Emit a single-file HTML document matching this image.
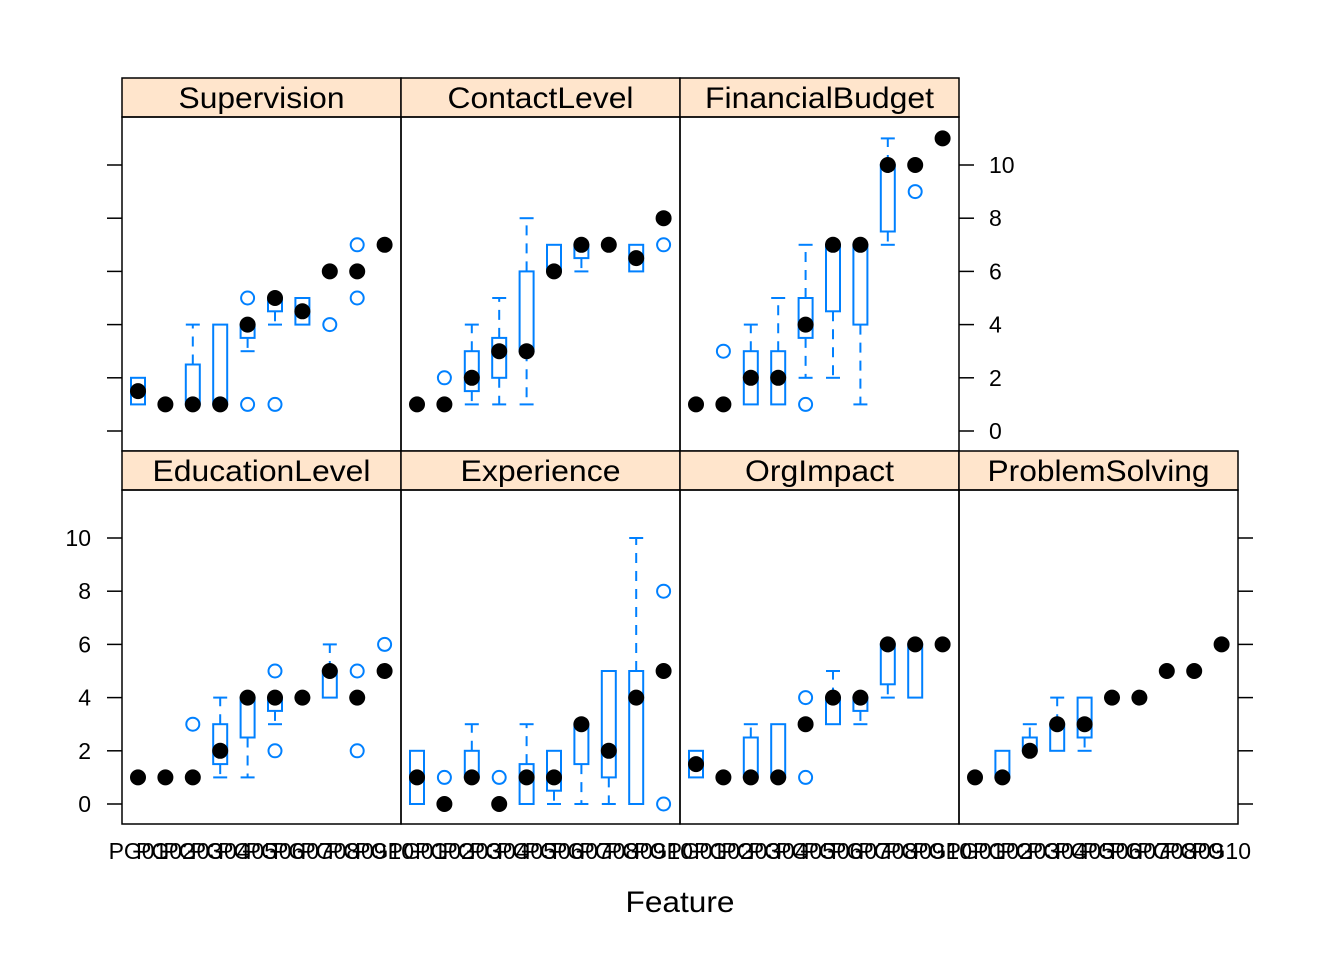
<!DOCTYPE html>
<html><head><meta charset="utf-8"><style>
html,body{margin:0;padding:0;background:#fff}
svg{display:block;font-family:"Liberation Sans",Arial,sans-serif}
</style></head><body>
<svg id="chart" width="1344" height="960" viewBox="0 0 1344 960">
<rect width="1344" height="960" fill="#fff"/>
<text x="680" y="912" font-size="30" text-anchor="middle" textLength="109" lengthAdjust="spacingAndGlyphs">Feature</text>
</svg>
<script>
const categories = ["PG01","PG02","PG03","PG04","PG05","PG06","PG07","PG08","PG09","PG10"];
const panelNames = ["Supervision","ContactLevel","FinancialBudget","EducationLevel","Experience","OrgImpact","ProblemSolving"];
const yTicks = [0,2,4,6,8,10];
// each box: [lowWhisker, q1, median, q3, highWhisker]
const supervisionStats = [[1,1,1.5,2,2],[1,1,1,1,1],[1,1,1,2.5,4],[1,1,1,4,4],[3,3.5,4,4,4],[4,4.5,5,5,5],[4,4,4.5,5,5],[6,6,6,6,6],[6,6,6,6,6],[7,7,7,7,7]];
const supervisionOut = [[],[],[],[],[5,1],[1],[],[4],[7,5],[]];
const contactStats = [[1,1,1,1,1],[1,1,1,1,1],[1,1.5,2,3,4],[1,2,3,3.5,5],[1,3,3,6,8],[6,6,6,7,7],[6,6.5,7,7,7],[7,7,7,7,7],[6,6,6.5,7,7],[8,8,8,8,8]];
const contactOut = [[],[2],[],[],[],[],[],[],[],[7]];
const budgetStats = [[1,1,1,1,1],[1,1,1,1,1],[1,1,2,3,4],[1,1,2,3,5],[2,3.5,4,5,7],[2,4.5,7,7,7],[1,4,7,7,7],[7,7.5,10,10,11],[10,10,10,10,10],[11,11,11,11,11]];
const budgetOut = [[],[3],[],[],[1],[],[],[],[9],[]];
const educationStats = [[1,1,1,1,1],[1,1,1,1,1],[1,1,1,1,1],[1,1.5,2,3,4],[1,2.5,4,4,4],[3,3.5,4,4,4],[4,4,4,4,4],[4,4,5,5,6],[4,4,4,4,4],[5,5,5,5,5]];
const educationOut = [[],[],[3],[],[],[5,2],[],[],[5,2],[6]];
const experienceStats = [[0,0,1,2,2],[0,0,0,0,0],[1,1,1,2,3],[0,0,0,0,0],[0,0,1,1.5,3],[0,0.5,1,2,2],[0,1.5,3,3,3],[0,1,2,5,5],[0,0,4,5,10],[5,5,5,5,5]];
const experienceOut = [[],[1],[],[1],[],[],[],[],[],[8,0]];
const orgStats = [[1,1,1.5,2,2],[1,1,1,1,1],[1,1,1,2.5,3],[1,1,1,3,3],[3,3,3,3,3],[3,3,4,4,5],[3,3.5,4,4,4],[4,4.5,6,6,6],[4,4,6,6,6],[6,6,6,6,6]];
const orgOut = [[],[],[],[],[4,1],[],[],[],[],[]];
const problemStats = [[1,1,1,1,1],[1,1,1,2,2],[2,2,2,2.5,3],[2,2,3,3,4],[2,2.5,3,4,4],[4,4,4,4,4],[4,4,4,4,4],[5,5,5,5,5],[5,5,5,5,5],[6,6,6,6,6]];
const problemOut = [[],[],[],[],[],[],[],[],[],[]];

const allStats=[supervisionStats,contactStats,budgetStats,educationStats,experienceStats,orgStats,problemStats];
const allOut=[supervisionOut,contactOut,budgetOut,educationOut,experienceOut,orgOut,problemOut];
const NS="http://www.w3.org/2000/svg";
const svg=document.getElementById('chart');
const BLUE="#0080ff";
function mk(tag,attrs,parent){const e=document.createElementNS(NS,tag);for(const k in attrs)e.setAttribute(k,attrs[k]);(parent||svg).appendChild(e);return e;}
const PW=279, UNIT=26.6;
const stripW={Supervision:166,ContactLevel:186,FinancialBudget:229,EducationLevel:218,Experience:160,OrgImpact:149,ProblemSolving:222};
const panels=[{l:122,t:117,row:0},{l:401,t:117,row:0},{l:680,t:117,row:0},{l:122,t:490,row:1},{l:401,t:490,row:1},{l:680,t:490,row:1},{l:959,t:490,row:1}];
panels.forEach((p,pi)=>{
  const g=mk('g',{});
  
  
  const base=p.t+314;
  const y=v=>base-v*UNIT;
  const x=i=>p.l+16+i*27.4;
  const strip=mk('rect',{x:p.l,y:p.t-39,width:PW,height:39,fill:'#ffe5cc',stroke:'#000','stroke-width':1.5},g);
  
  
  const st=mk('text',{x:p.l+PW/2,y:p.t-9,'font-size':30,'text-anchor':'middle',textLength:stripW[panelNames[pi]],lengthAdjust:'spacingAndGlyphs'},g);
  st.textContent=panelNames[pi];
  
  
  const fr=mk('rect',{x:p.l,y:p.t,width:PW,height:334,fill:'none',stroke:'#000','stroke-width':1.5},g);
  
  
  const stats=allStats[pi], outs=allOut[pi];
  stats.forEach((s,i)=>{
    const cx=x(i);
    const bg=mk('g',{},g);
    
    
    const ls={stroke:BLUE,'stroke-width':2,fill:'none'};
    if(s[4]>s[3]){mk('line',Object.assign({x1:cx,x2:cx,y1:y(s[3]),y2:y(s[4]),'stroke-dasharray':'10,8'},ls),bg);mk('line',Object.assign({x1:cx-7,x2:cx+7,y1:y(s[4]),y2:y(s[4])},ls),bg);}
    if(s[0]<s[1]){mk('line',Object.assign({x1:cx,x2:cx,y1:y(s[1]),y2:y(s[0]),'stroke-dasharray':'10,8'},ls),bg);mk('line',Object.assign({x1:cx-7,x2:cx+7,y1:y(s[0]),y2:y(s[0])},ls),bg);}
    if(s[3]>s[1]) mk('rect',Object.assign({x:cx-7,y:y(s[3]),width:14,height:y(s[1])-y(s[3])},ls),bg);
    outs[i].forEach(o=>{const c=mk('circle',{cx:cx,cy:y(o),r:6.5,fill:'none',stroke:BLUE,'stroke-width':2},bg);
      
      });
    const m=mk('circle',{cx:cx,cy:y(s[2]),r:8,fill:'#000'},bg);
    
    
  });
  const leftLabels = pi===3;
  const rightLabels = pi===2;
  if(pi===0||pi===3){
    yTicks.forEach(v=>{mk('line',{x1:p.l-15,x2:p.l,y1:y(v),y2:y(v),stroke:'#000','stroke-width':1.5},g);
      if(leftLabels){const t=mk('text',{x:91,y:y(v)+8,'font-size':23,'text-anchor':'end'},g);t.textContent=v;
        
        }});
  }
  if(pi===2||pi===6){
    yTicks.forEach(v=>{mk('line',{x1:p.l+PW,x2:p.l+PW+15,y1:y(v),y2:y(v),stroke:'#000','stroke-width':1.5},g);
      if(rightLabels){const t=mk('text',{x:p.l+PW+30,y:y(v)+8,'font-size':23,'text-anchor':'start'},g);t.textContent=v;
        
        }});
  }
  if(p.row===1){
    categories.forEach((c,i)=>{const t=mk('text',{x:x(i),y:859,'font-size':23,'text-anchor':'middle'},g);t.textContent=c;
      
      });
  }
});
</script>
</body></html>
